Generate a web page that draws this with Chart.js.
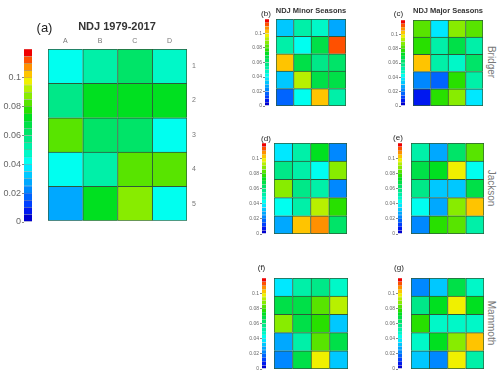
<!DOCTYPE html>
<html><head><meta charset="utf-8">
<script src="https://cdn.jsdelivr.net/npm/chart.js@4.4.0/dist/chart.umd.min.js"></script>
<style>
html,body{margin:0;padding:0;background:#fff;width:500px;height:376px;overflow:hidden;font-family:"Liberation Sans",Arial,sans-serif;}
#fig{position:relative;width:500px;height:376px;}
canvas{position:absolute;}
.t{position:absolute;transform:translate(-50%,-50%);white-space:nowrap;line-height:1;}
.st{position:absolute;transform:translate(-50%,-50%) rotate(90deg);white-space:nowrap;color:#777;font-size:10px;line-height:1;}
</style></head><body><div id="fig"></div>
<script>
// ---------- data ----------
const columnLabels = ['A','B','C','D'];
const rowLabels = ['1','2','3','4','5'];
const colorbarTicks = [0, 0.02, 0.04, 0.06, 0.08, 0.1];
const levelStep = 0.005;
const levelMax = 0.12;
const colorLevels = [
  '#0000d0','#0018f0','#0040ff','#0064ff','#0088ff','#00a8ff','#00c8ff','#00e8ff',
  '#00fff0','#00f8c8','#00f0a8','#00e888','#00e468','#00e048','#00e020','#28e000',
  '#58e400','#88ec00','#b8f000','#f0f000','#ffc400','#ff9000','#ff5000','#f00000'
];

const ndjAll = [
  [0.042,0.050,0.060,0.047],
  [0.055,0.072,0.072,0.072],
  [0.080,0.062,0.060,0.042],
  [0.042,0.053,0.080,0.080],
  [0.027,0.073,0.087,0.042]
];
const minorBridger = [
  [0.033,0.052,0.045,0.025],
  [0.052,0.043,0.067,0.112],
  [0.100,0.067,0.057,0.060],
  [0.034,0.092,0.067,0.069],
  [0.017,0.042,0.100,0.052]
];
const majorBridger = [
  [0.082,0.038,0.088,0.082],
  [0.076,0.052,0.068,0.052],
  [0.100,0.052,0.045,0.064],
  [0.022,0.018,0.078,0.052],
  [0.007,0.075,0.088,0.038]
];
const minorJackson = [
  [0.038,0.053,0.072,0.022],
  [0.057,0.050,0.040,0.087],
  [0.086,0.057,0.050,0.022],
  [0.040,0.050,0.092,0.078],
  [0.028,0.102,0.107,0.064]
];
const majorJackson = [
  [0.053,0.029,0.064,0.080],
  [0.067,0.072,0.097,0.044],
  [0.055,0.034,0.034,0.067],
  [0.044,0.029,0.088,0.102],
  [0.022,0.076,0.082,0.052]
];
const minorMammoth = [
  [0.036,0.052,0.058,0.047],
  [0.068,0.068,0.082,0.091],
  [0.085,0.068,0.075,0.034],
  [0.029,0.052,0.082,0.068],
  [0.020,0.067,0.098,0.034]
];
const majorMammoth = [
  [0.022,0.034,0.068,0.045],
  [0.055,0.072,0.097,0.072],
  [0.079,0.045,0.045,0.045],
  [0.045,0.072,0.088,0.102],
  [0.034,0.022,0.097,0.053]
];

// ---------- helpers ----------
const FONT = '"Liberation Sans", Arial, sans-serif';
const fig = document.getElementById('fig');
const CELL_EDGE = '#2d5a3a';

function colorFor(v){
  let k = Math.floor(v/levelStep + 1e-9);
  k = Math.max(0, Math.min(colorLevels.length-1, k));
  return colorLevels[k];
}
function addCanvas(l,t,w,h){
  const c = document.createElement('canvas');
  c.width = w; c.height = h;
  c.style.left = l+'px'; c.style.top = t+'px';
  c.style.width = w+'px'; c.style.height = h+'px';
  fig.appendChild(c);
  return c;
}
function addText(txt, x, y, size, opts={}){
  const d = document.createElement('div');
  d.className = opts.rot ? 'st' : 't';
  d.textContent = txt;
  d.style.left = x+'px'; d.style.top = y+'px';
  d.style.fontSize = size+'px';
  if (opts.bold) d.style.fontWeight = 'bold';
  if (opts.color) d.style.color = opts.color;
  fig.appendChild(d);
}
const baseOpts = {
  responsive:false, animation:false, events:[],
  plugins:{legend:{display:false}, tooltip:{enabled:false}}
};

function colorbar(box, fontSize, segEdge){
  const AX = 40, PAD = 10;
  const c = addCanvas(box.l-AX, box.t-PAD, AX+box.w, box.h+2*PAD);
  new Chart(c, {
    type:'bar',
    data:{labels:[''], datasets: colorLevels.map(col => ({
      data:[levelStep], backgroundColor:col,
      borderColor:segEdge, borderWidth:{top:0.5,bottom:0.5,left:0,right:0}, borderSkipped:false,
      categoryPercentage:1, barPercentage:1
    }))},
    options:Object.assign({}, baseOpts, {
      layout:{padding:{top:PAD,bottom:PAD,left:0,right:0}},
      scales:{
        x:{display:false, stacked:true},
        y:{stacked:true, min:0, max:levelMax, position:'left',
           afterFit:s=>{s.width=AX;},
           afterBuildTicks:s=>{s.ticks = colorbarTicks.map(v=>({value:v}));},
           grid:{drawOnChartArea:false, drawTicks:true, tickLength:2, color:'#888'},
           border:{display:false},
           ticks:{autoSkip:false, padding:1, color:'#666', font:{size:fontSize, family:FONT},
                  callback:v=>String(Number(Number(v).toFixed(3)))}}
      }
    })
  });
}

function heatmap(box, rows, withAxes){
  const nR = rows.length, nC = columnLabels.length;
  const datasets = rows.map((row, r) => ({
    data: row.map(() => 1),
    backgroundColor: row.map(colorFor),
    borderColor: CELL_EDGE,
    borderWidth: ctx => ({top:1, left:1, right: ctx.dataIndex === nC-1 ? 1 : 0, bottom: r === nR-1 ? 1 : 0}),
    borderSkipped:false,
    categoryPercentage:1, barPercentage:1
  })).reverse();
  if (!withAxes){
    const c = addCanvas(box.l, box.t, box.w, box.h);
    new Chart(c, {type:'bar', data:{labels:columnLabels, datasets},
      options:Object.assign({}, baseOpts, {
        layout:{padding:0},
        scales:{x:{display:false, stacked:true}, y:{display:false, stacked:true, min:0, max:nR}}
      })});
    return;
  }
  const L=8, T=20, R=24, B=8;
  const c = addCanvas(box.l-L, box.t-T, box.w+L+R, box.h+T+B);
  new Chart(c, {type:'bar', data:{labels:columnLabels, datasets},
    options:Object.assign({}, baseOpts, {
      layout:{padding:{left:L, top:0, right:0, bottom:B}},
      scales:{
        x:{stacked:true, position:'top', afterFit:s=>{s.height=T;},
           grid:{display:false, drawTicks:false}, border:{display:false},
           ticks:{padding:4, color:'#777', font:{size:7, family:FONT}}},
        y:{display:false, stacked:true, min:0, max:nR},
        y2:{type:'category', labels:rowLabels, position:'right', offset:true,
            afterFit:s=>{s.width=R;},
            grid:{display:false, drawTicks:false}, border:{display:false},
            ticks:{padding:5, color:'#777', font:{size:7, family:FONT}}}
      }
    })});
}

// ---------- layout ----------
const panels = [
  {rows:ndjAll,       cb:{l:24, t:49, w:8, h:173}, hm:{l:48, t:49, w:139, h:173}, big:true},
  {rows:minorBridger, cb:{l:265,t:19, w:4, h:87},  hm:{l:276,t:19, w:70, h:87}},
  {rows:majorBridger, cb:{l:401,t:20, w:4, h:86},  hm:{l:413,t:20, w:70, h:86}},
  {rows:minorJackson, cb:{l:262,t:143,w:4, h:91},  hm:{l:274,t:143,w:73, h:91}},
  {rows:majorJackson, cb:{l:398,t:143,w:4, h:91},  hm:{l:411,t:143,w:73, h:91}},
  {rows:minorMammoth, cb:{l:262,t:278,w:4, h:91},  hm:{l:274,t:278,w:74, h:91}},
  {rows:majorMammoth, cb:{l:398,t:278,w:4, h:91},  hm:{l:411,t:278,w:73, h:91}}
];
panels.forEach(p => {
  colorbar(p.cb, p.big ? 9 : 5, p.big ? 'rgba(0,0,0,0.25)' : 'rgba(0,0,0,0.12)');
  heatmap(p.hm, p.rows, !!p.big);
});

// ---------- texts ----------
addText('(a)', 44.5, 26.5, 13, {color:'#222'});
addText('NDJ 1979-2017', 117, 26, 11, {bold:true, color:'#333'});
addText('(b)', 266, 14, 8, {color:'#222'});
addText('NDJ Minor Seasons', 311, 11, 7.5, {bold:true, color:'#333'});
addText('(c)', 398.5, 14, 8, {color:'#222'});
addText('NDJ Major Seasons', 448, 11, 7.5, {bold:true, color:'#333'});
addText('(d)', 266, 139, 8, {color:'#222'});
addText('(e)', 398, 138, 8, {color:'#222'});
addText('(f)', 261.5, 267.5, 8, {color:'#222'});
addText('(g)', 399, 267.5, 8, {color:'#222'});
addText('Bridger', 491, 62, 10, {rot:true});
addText('Jackson', 491, 188, 10, {rot:true});
addText('Mammoth', 491, 323, 10, {rot:true});
</script>
</body></html>
